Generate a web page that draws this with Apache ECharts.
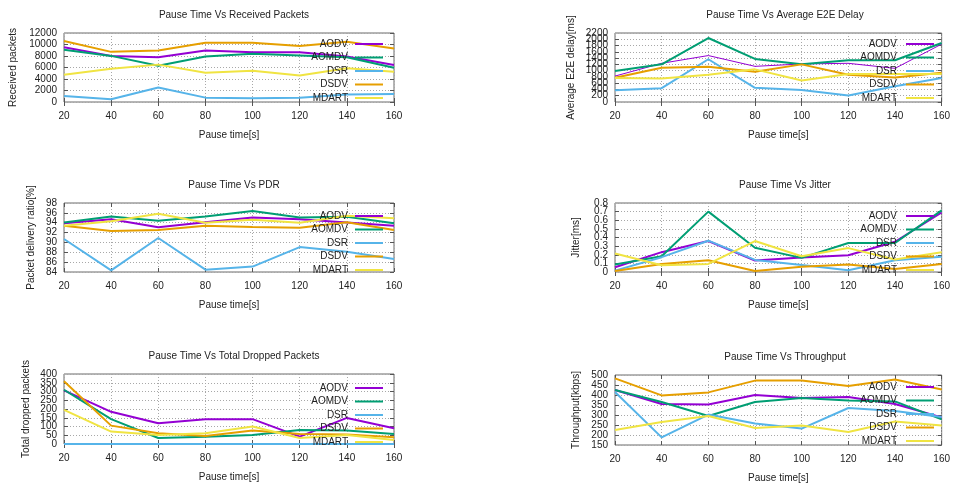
<!DOCTYPE html>
<html>
<head>
<meta charset="utf-8">
<script src="https://cdn.jsdelivr.net/npm/echarts@6/dist/echarts.min.js"></script>
<style>html,body{margin:0;padding:0;background:#fff}#c{width:953px;height:486px}</style>
</head>
<body>
<div id="c"></div>
<script>
// ---- data ----
const pauseTimes = [20, 40, 60, 80, 100, 120, 140, 160];
const protocols = ['AODV', 'AOMDV', 'DSR', 'DSDV', 'MDART'];
const panelTitles = ['Pause Time Vs Received Packets', 'Pause Time Vs Average E2E Delay', 'Pause Time Vs PDR', 'Pause Time Vs Jitter', 'Pause Time Vs Total Dropped Packets', 'Pause Time Vs Throughput'];
const yAxisNames = ['Received packets', 'Average E2E delay[ms]', 'Packet delivery ratio[%]', 'Jitter[ms]', 'Total dropped packets', 'Throughput[kbps]'];
const xAxisName = 'Pause time[s]';
const yMins = [0, 0, 84, 0, 0, 150];
const yMaxs = [12000, 2200, 98, 0.8, 400, 500];
const yIntervals = [2000, 200, 2, 0.1, 50, 50];

// rows: AODV, AOMDV, DSR, DSDV, MDART
const receivedPackets = [
  [9540, 8020, 7785, 8960, 8660, 8660, 7900, 6440],
  [9070, 8020, 6320, 7900, 8370, 8080, 7785, 5970],
  [1050, 470, 2520, 760, 640, 760, 1290, 1400],
  [10600, 8720, 8960, 10300, 10300, 9720, 10480, 9300],
  [4740, 5800, 6500, 5090, 5440, 4620, 5850, 5270]
];
const e2eDelay = [
  [826, 1234, 1481, 1137, 1213, 1234, 1073, 1846],
  [987, 1200, 2040, 1374, 1200, 1330, 1330, 1880],
  [375, 440, 1363, 451, 386, 204, 504, 762],
  [773, 1095, 1127, 966, 1200, 869, 783, 934],
  [762, 751, 869, 1041, 687, 891, 891, 891]
];
const pdr = [
  [93.9, 94.7, 93.1, 94.1, 95.06, 94.7, 94.04, 93.4],
  [94.04, 95.27, 94.38, 95.27, 96.36, 95.06, 95.2, 93.9],
  [90.7, 84.34, 90.9, 84.48, 85.1, 89.05, 88.1, 86.66],
  [93.36, 92.33, 92.5, 93.36, 93.15, 93.0, 94.1, 92.5],
  [93.36, 94.3, 95.8, 94.0, 94.6, 94.0, 95.4, 94.9]
];
const jitter = [
  [0.055, 0.23, 0.359, 0.133, 0.168, 0.195, 0.351, 0.69],
  [0.086, 0.183, 0.70, 0.281, 0.164, 0.336, 0.336, 0.714],
  [0.016, 0.172, 0.363, 0.14, 0.082, 0.02, 0.137, 0.176],
  [0.012, 0.094, 0.137, 0.012, 0.062, 0.086, 0.035, 0.094],
  [0.215, 0.078, 0.094, 0.359, 0.183, 0.277, 0.144, 0.23]
];
const droppedPackets = [
  [306, 184, 119, 142, 142, 42, 149, 90],
  [310, 142, 34, 42, 52, 80, 77, 57],
  [0, 0, 0, 0, 0, 0, 0, 0],
  [358, 105, 61, 46, 77, 57, 55, 38],
  [195, 71, 52, 61, 100, 34, 52, 23]
];
const throughput = [
  [425, 355, 352, 400, 385, 390, 355, 288],
  [425, 365, 295, 365, 385, 372, 368, 278],
  [415, 188, 302, 258, 232, 335, 320, 290],
  [483, 398, 413, 472, 472, 445, 478, 428],
  [225, 265, 295, 235, 248, 215, 268, 248]
];
const panelData = [receivedPackets, e2eDelay, pdr, jitter, droppedPackets, throughput];

// ---- style / layout ----
const colors = ['#9400d3', '#009e73', '#56b4e9', '#e69f00', '#f0e442'];
const FONT = 'Liberation Sans';
const TXT = '#222';
const grids = [
  {left: 64, top: 33, width: 330, height: 69},
  {left: 615, top: 33, width: 330, height: 69},
  {left: 64, top: 203, width: 330, height: 69},
  {left: 615, top: 203, width: 330, height: 69},
  {left: 64, top: 374, width: 330, height: 70},
  {left: 615, top: 375, width: 330, height: 70}
];
const yNameGaps = [46, 39, 28, 34, 33, 34];
const legendTops = [38, 38, 210, 210, 382, 381];
const fmt = v => String(Math.round(v * 1000) / 1000);

const option = {
  animation: false,
  backgroundColor: '#fff',
  textStyle: {fontFamily: FONT, color: TXT},
  title: [], grid: [], xAxis: [], yAxis: [], legend: [], series: []
};

grids.forEach((g, i) => {
  option.grid.push(Object.assign({show: true, borderColor: '#6a6a6a', borderWidth: 1, backgroundColor: 'transparent'}, g));
  option.title.push({
    text: panelTitles[i], left: g.left + g.width / 2, top: g.top - 28, textAlign: 'center',
    textStyle: {fontFamily: FONT, fontSize: 10, fontWeight: 'normal', color: TXT}
  });
  const axisCommon = {
    gridIndex: i, type: 'value',
    axisLine: {show: false},
    axisTick: {show: true, inside: true, length: 4, lineStyle: {color: '#555'}}
  };
  const labelStyle = {fontFamily: FONT, fontSize: 10, color: TXT};
  option.xAxis.push(Object.assign({}, axisCommon, {
    min: 20, max: 160, interval: 20, position: 'bottom',
    name: xAxisName, nameLocation: 'middle', nameGap: 28,
    nameTextStyle: labelStyle,
    axisLabel: Object.assign({margin: 9, showMinLabel: true, showMaxLabel: true}, labelStyle),
    splitLine: {show: true, lineStyle: {type: [1, 2], color: '#a8a8a8', width: 1}}
  }));
  option.xAxis.push(Object.assign({}, axisCommon, {
    min: 20, max: 160, interval: 20, position: 'top',
    axisLabel: {show: false}, splitLine: {show: false}
  }));
  const yMin = yMins[i], yMax = yMaxs[i];
  // main left axis: inner labels
  option.yAxis.push(Object.assign({}, axisCommon, {
    min: yMin, max: yMax, interval: yIntervals[i], position: 'left',
    name: yAxisNames[i], nameLocation: 'middle', nameGap: yNameGaps[i],
    nameTextStyle: labelStyle,
    axisLabel: Object.assign({margin: 7, hideOverlap: false, showMinLabel: false, showMaxLabel: false, formatter: fmt}, labelStyle),
    splitLine: {show: true, lineStyle: {type: [1, 2], color: '#a8a8a8', width: 1}}
  }));
  // mirror right axis (ticks only)
  option.yAxis.push(Object.assign({}, axisCommon, {
    min: yMin, max: yMax, interval: yIntervals[i], position: 'right',
    axisLabel: {show: false}, splitLine: {show: false}
  }));
  // extra left axis: min & max labels only
  option.yAxis.push(Object.assign({}, axisCommon, {
    min: yMin, max: yMax, interval: yIntervals[i], position: 'left',
    axisTick: {show: false}, splitLine: {show: false},
    axisLabel: Object.assign({margin: 7, hideOverlap: false, showMinLabel: true, showMaxLabel: true,
      formatter: v => (Math.abs(v - yMin) < 1e-9 || Math.abs(v - yMax) < 1e-9) ? fmt(v) : ''}, labelStyle)
  }));
  const isLeft = (i % 2 === 0);
  option.legend.push({
    orient: 'vertical', align: 'right', selectedMode: false,
    right: isLeft ? 953 - 383 : 953 - 934, top: legendTops[i],
    padding: 0, itemGap: 1.5, itemWidth: 28, itemHeight: 2, icon: 'rect',
    data: protocols,
    textStyle: {fontFamily: FONT, fontSize: 10, color: TXT, lineHeight: 12, padding: [0, isLeft ? 2 : 4, 0, 0]}
  });
  panelData[i].forEach((vals, s) => {
    option.series.push({
      name: protocols[s], type: 'line', xAxisIndex: i * 2, yAxisIndex: i * 3,
      data: pauseTimes.map((x, k) => [x, vals[k]]),
      showSymbol: false, symbol: 'none', clip: true,
      lineStyle: {width: (i === 1 && s === 0) ? 1 : 2, color: colors[s]},
      itemStyle: {color: colors[s]}
    });
  });
});

const chart = echarts.init(document.getElementById('c'), null, {renderer: 'canvas'});
chart.setOption(option);
</script>
</body>
</html>
